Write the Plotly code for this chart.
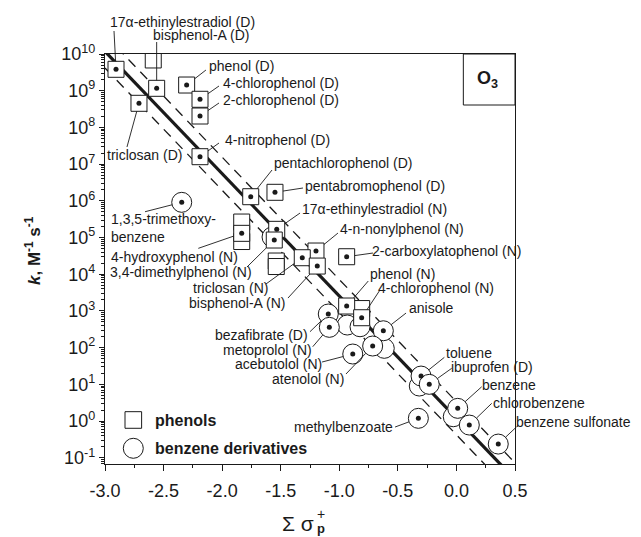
import math
import plotly.graph_objects as go

# ---------------- data ----------------
phenol_names = [
    "17α-ethinylestradiol (D)", "bisphenol-A (D)", "triclosan (D)", "phenol (D)",
    "4-chlorophenol (D)", "2-chlorophenol (D)", "4-nitrophenol (D)",
    "pentachlorophenol (D)", "pentabromophenol (D)", "17α-ethinylestradiol (N)",
    "4-n-nonylphenol (N)", "2-carboxylatophenol (N)", "triclosan (N)",
    "bisphenol-A (N)", "4-hydroxyphenol (N)", "3,4-dimethylphenol (N)",
    "phenol (N)", "4-chlorophenol (N)",
]
phenol_sigma = [-2.906, -2.559, -2.710, -2.303, -2.189, -2.189, -2.189, -1.756, -1.549,
                -1.534, -1.199, -0.937, -1.316, -1.188, -1.833, -1.555, -0.937, -0.809]
phenol_logk = [9.583, 9.065, 8.657, 9.155, 8.766, 8.311, 7.202, 6.112, 6.232,
               5.223, 4.632, 4.477, 4.450, 4.223, 5.114, 4.932, 3.134, 2.815]

benz_names = [
    "1,3,5-trimethoxy-<br>benzene", "anisole", "bezafibrate (D)", "metoprolol (N)",
    "acebutolol (N)", "atenolol (N)", "toluene", "ibuprofen (D)", "benzene",
    "chlorobenzene", "benzene sulfonate", "methylbenzoate",
]
benz_sigma = [-2.345, -0.624, -1.094, -1.085, -0.885, -0.715, -0.302, -0.232, 0.011,
              0.110, 0.357, -0.325]
benz_logk = [5.959, 2.460, 2.916, 2.553, 1.826, 2.044, 1.226, 1.000, 0.346,
             -0.109, -0.627, 0.074]

# unlabelled (open) symbols
open_sq_sigma = [-2.588, -1.833, -1.833, -1.538, -1.538, -0.809]
open_sq_logk = [9.837, 5.422, 4.891, 4.360, 4.210, 3.065]
open_ci_sigma = [-1.574, -0.932, -0.823, -0.616, -0.317, -0.027]
open_ci_logk = [5.014, 2.616, 2.569, 1.981, 0.954, 0.117]

# correlation line and its band
fit_sigma = [-3.0, 0.5]
fit_logk = [10.07, -1.59]
band_upper_logk = [10.52, -1.14]
band_lower_logk = [9.62, -2.04]

x_ticks = [-3.0, -2.5, -2.0, -1.5, -1.0, -0.5, 0.0, 0.5]
y_decades = list(range(-1, 11))

X_RANGE = [-3.0, 0.5]
Y_RANGE_LOG = [-1.17, 10.0]

# ---------------- label placement (pixel offsets: text centre, leader start) ----------------
label_pos = {
    "17α-ethinylestradiol (D)": (66, -47, -2, -38.3),
    "bisphenol-A (D)": (45, -53, 0, -46.3),
    "triclosan (D)": (6, 51.7, -12, 43.7),
    "phenol (D)": (55, -19, 19.3, -15),
    "4-chlorophenol (D)": (81, -16.3, 19, -13.3),
    "2-chlorophenol (D)": (81, -16, 19, -13),
    "4-nitrophenol (D)": (77, -16.7, 19, -13.7),
    "pentachlorophenol (D)": (92.3, -33.7, 21.3, -26.7),
    "pentabromophenol (D)": (100, -6.3, 28, -4.3),
    "17α-ethinylestradiol (N)": (97.3, -20, 23.3, -16.3),
    "4-n-nonylphenol (N)": (86, -21.7, 22, -18),
    "2-carboxylatophenol (N)": (100.3, -6, 26.3, -3.7),
    "triclosan (N)": (-71.3, 30.6, -36.3, 26.3),
    "bisphenol-A (N)": (-79.8, 37.3, -29.3, 32),
    "4-hydroxyphenol (N)": (-67, 24, -43.4, 15),
    "3,4-dimethylphenol (N)": (-93, 31.7, -27.3, 27),
    "phenol (N)": (56.3, -32, 21.6, -25),
    "4-chlorophenol (N)": (74.8, -30, 18.3, -27.7),
    "1,3,5-trimethoxy-<br>benzene": (-72.4, 26, -36.7, 9.4),
    "anisole": (47.7, -22.4, 22.7, -17.7),
    "bezafibrate (D)": (-66.3, 21, -18.3, 17.7),
    "metoprolol (N)": (-61.9, 22.7, -16.6, 19.4),
    "acebutolol (N)": (-74.7, 10, -30.7, 8),
    "atenolol (N)": (-64.4, 33.3, -26.7, 28),
    "toluene": (48, -23.5, 23.3, -18.7),
    "ibuprofen (D)": (63.2, -17.5, 22.4, -16),
    "benzene": (50.8, -23.3, 24, -21.6),
    "chlorobenzene": (69.7, -21.7, 22.4, -21.7),
    "benzene sulfonate": (75.6, -22.3, 18.4, -17.3),
    "methylbenzoate": (-75, 9, -23.3, 8.7),
}

FONT = "Liberation Sans, Arial, Helvetica, sans-serif"
INK = "#1a1a1a"
SQ_SIZE = 16
CI_SIZE = 20

fig = go.Figure()

# lines
fig.add_trace(go.Scatter(x=fit_sigma, y=[10 ** v for v in band_upper_logk], mode="lines",
                         line=dict(color=INK, width=1.3, dash="10px,7px"), hoverinfo="skip"))
fig.add_trace(go.Scatter(x=fit_sigma, y=[10 ** v for v in band_lower_logk], mode="lines",
                         line=dict(color=INK, width=1.3, dash="10px,7px"), hoverinfo="skip"))
fig.add_trace(go.Scatter(x=fit_sigma, y=[10 ** v for v in fit_logk], mode="lines",
                         line=dict(color=INK, width=3.2), hoverinfo="skip"))

# open symbols
fig.add_trace(go.Scatter(x=open_ci_sigma, y=[10 ** v for v in open_ci_logk], mode="markers",
                         marker=dict(symbol="circle", size=CI_SIZE, color="white",
                                     line=dict(color=INK, width=1))))
fig.add_trace(go.Scatter(x=open_sq_sigma, y=[10 ** v for v in open_sq_logk], mode="markers",
                         marker=dict(symbol="square", size=SQ_SIZE, color="white",
                                     line=dict(color=INK, width=1))))

# data symbols
fig.add_trace(go.Scatter(x=benz_sigma, y=[10 ** v for v in benz_logk], mode="markers",
                         marker=dict(symbol="circle", size=CI_SIZE, color="white",
                                     line=dict(color=INK, width=1))))
fig.add_trace(go.Scatter(x=phenol_sigma, y=[10 ** v for v in phenol_logk], mode="markers",
                         marker=dict(symbol="square", size=SQ_SIZE, color="white",
                                     line=dict(color=INK, width=1))))
fig.add_trace(go.Scatter(x=benz_sigma + phenol_sigma,
                         y=[10 ** v for v in benz_logk + phenol_logk], mode="markers",
                         marker=dict(symbol="circle", size=5, color=INK, line=dict(width=0))))


def to_paper(sig, lk):
    return ((sig - X_RANGE[0]) / (X_RANGE[1] - X_RANGE[0]),
            (lk - Y_RANGE_LOG[0]) / (Y_RANGE_LOG[1] - Y_RANGE_LOG[0]))


# labels and leader lines
def add_label(name, sig, lk, half, kind):
    tx, ty, lx, ly = label_pos[name]
    if kind == "sq":
        s = half / max(abs(lx), abs(ly))
    else:
        s = half / math.hypot(lx, ly)
    ex, ey = lx * s, ly * s
    px, py = to_paper(sig, lk)
    fig.add_shape(type="line", xref="paper", yref="paper", xsizemode="pixel", ysizemode="pixel",
                  xanchor=px, yanchor=py, x0=lx, x1=ex, y0=-ly, y1=-ey,
                  line=dict(color=INK, width=0.9))
    multi = "<br>" in name
    fig.add_annotation(x=px, y=py, xref="paper", yref="paper", text=name, showarrow=False,
                       xshift=tx, yshift=-ty, xanchor="left" if multi else "center",
                       yanchor="middle", align="left" if multi else "center",
                       font=dict(family=FONT, size=14, color=INK))


for n, s, k in zip(phenol_names, phenol_sigma, phenol_logk):
    add_label(n, s, k, SQ_SIZE / 2, "sq")
for n, s, k in zip(benz_names, benz_sigma, benz_logk):
    add_label(n, s, k, CI_SIZE / 2, "ci")

# O3 box
fig.add_shape(type="rect", xref="paper", yref="paper", x0=0.874, x1=1.0, y0=0.8756, y1=1.0,
              line=dict(color=INK, width=1), fillcolor="white")
fig.add_annotation(xref="paper", yref="paper", x=0.934, y=0.939, xanchor="center", yanchor="middle",
                   text="<b>O<sub>3</sub></b>",
                   showarrow=False, font=dict(family=FONT, size=18, color=INK))

# legend (drawn)
fig.add_shape(type="rect", xref="paper", yref="paper", x0=0.0488, x1=0.0893, y0=0.0871, y1=0.1276,
              line=dict(color=INK, width=1), fillcolor="white")
fig.add_shape(type="circle", xref="paper", yref="paper", x0=0.0446, x1=0.0934, y0=0.0139, y1=0.0627,
              line=dict(color=INK, width=1), fillcolor="white")
fig.add_annotation(xref="paper", yref="paper", x=0.1178, y=0.1073, xanchor="left", yanchor="middle",
                   text="<b>phenols</b>", showarrow=False, font=dict(family=FONT, size=16, color=INK))
fig.add_annotation(xref="paper", yref="paper", x=0.1178, y=0.0383, xanchor="left", yanchor="middle",
                   text="<b>benzene derivatives</b>", showarrow=False,
                   font=dict(family=FONT, size=16, color=INK))

# axis titles
fig.add_annotation(xref="paper", yref="paper", x=-0.1756, y=0.5195, textangle=-90,
                   xanchor="center", yanchor="middle",
                   text="<b><i>k</i>, M<sup>-1</sup> s<sup>-1</sup></b>", showarrow=False,
                   font=dict(family=FONT, size=17, color=INK))
fig.add_annotation(xref="paper", yref="paper", x=0.5146, y=-0.1463, xanchor="right", yanchor="middle",
                   text="Σ σ", showarrow=False, font=dict(family=FONT, size=21, color=INK))
fig.add_annotation(xref="paper", yref="paper", x=0.5268, y=-0.122, xanchor="center", yanchor="middle",
                   text="+", showarrow=False, font=dict(family=FONT, size=14, color=INK))
fig.add_annotation(xref="paper", yref="paper", x=0.5268, y=-0.157, xanchor="center", yanchor="middle",
                   text="<b>p</b>", showarrow=False, font=dict(family=FONT, size=13, color=INK))

minor_y = [d * 10 ** n for n in range(-2, 10) for d in range(2, 10)]

fig.update_layout(
    width=641, height=537,
    margin=dict(l=105, r=126, t=54, b=73),
    paper_bgcolor="white", plot_bgcolor="white",
    showlegend=False,
    font=dict(family=FONT, color=INK),
    xaxis=dict(range=X_RANGE, tickvals=x_ticks, ticktext=[f"{v:.1f}" for v in x_ticks],
               ticks="outside", ticklen=6, tickwidth=1, tickcolor=INK, ticklabelstandoff=4,
               minor=dict(dtick=0.25, ticks="outside", ticklen=3, tickcolor=INK, showgrid=False),
               showline=True, linecolor=INK, linewidth=1.2, mirror=True,
               showgrid=False, zeroline=False,
               tickfont=dict(family=FONT, size=18, color=INK)),
    yaxis=dict(type="log", range=Y_RANGE_LOG,
               tickvals=[10 ** n for n in y_decades],
               ticktext=[f"10<sup>{n}</sup>" for n in y_decades],
               ticks="outside", ticklen=5, tickwidth=1, tickcolor=INK,
               minor=dict(tickvals=minor_y, ticks="outside", ticklen=3, tickcolor=INK, showgrid=False),
               showline=True, linecolor=INK, linewidth=1.2, mirror=True,
               showgrid=False, zeroline=False,
               tickfont=dict(family=FONT, size=18, color=INK)),
)

fig.write_html("out.html")
